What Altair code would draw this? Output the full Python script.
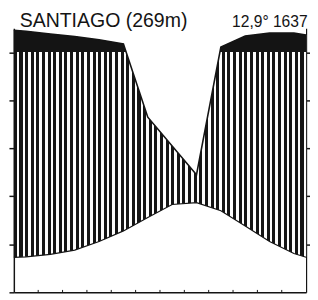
import altair as alt
import pandas as pd

# ---- data ----
station_title = "SANTIAGO (269m)"
station_stats = "12,9° 1637"
months = ["Jan", "Feb", "Mar", "Apr", "May", "Jun", "Jul", "Aug", "Sep", "Oct", "Nov", "Dec"]
temp_c = [7.4, 7.9, 8.8, 10.6, 12.8, 15.6, 18.3, 18.7, 17.0, 13.8, 10.6, 8.1]
precip_mm = [188, 176, 166, 152, 135, 73, 61, 49, 122, 168, 180, 180]
# values at the left / right border of the diagram
edge_temp = [7.3, 7.3]
edge_precip = [192, 172]
temp_ticks = [0, 10, 20, 30, 40, 50]
right_ticks = [10, 20, 30, 40, 50]
month_bounds = list(range(1, 12))

# ---- table ----
xs = [0.0] + [i + 0.5 for i in range(12)] + [12.0]
df = pd.DataFrame({
    "x": xs,
    "temp": [edge_temp[0]] + temp_c + [edge_temp[1]],
    "prec": [edge_precip[0]] + precip_mm + [edge_precip[1]],
})


def disp(p):
    return p / 2 if p <= 100 else 50 + (p - 100) / 20


top_u = max(disp(p) for p in df["prec"])
bot_u = min(df["temp"])
cut = (top_u - 50) / (top_u - bot_u)

INK = "#141414"
PAPER = "#fcfcfc"

n_stripes = 52
stops = []
for k in range(n_stripes):
    a = k / n_stripes
    b = (k + 0.54) / n_stripes
    c = (k + 1) / n_stripes
    stops += [
        {"offset": a, "color": INK},
        {"offset": b, "color": INK},
        {"offset": b, "color": PAPER},
        {"offset": c, "color": PAPER},
    ]
stripe_fill = {"gradient": "linear", "x1": 0, "x2": 1, "y1": 0, "y2": 0, "stops": stops}
black_fill = {
    "gradient": "linear", "x1": 0, "x2": 0, "y1": 0, "y2": 1,
    "stops": [
        {"offset": 0, "color": INK},
        {"offset": cut, "color": INK},
        {"offset": cut, "color": "rgba(255,255,255,0)"},
        {"offset": 1, "color": "rgba(255,255,255,0)"},
    ],
}

xscale = alt.Scale(domain=[0, 12], nice=False, zero=False)
yscale = alt.Scale(domain=[0, 55], nice=False, zero=True)
left_axis = alt.Axis(values=temp_ticks, labels=False, title=None, grid=False,
                     tickSize=5, tickWidth=1.5, tickColor=INK,
                     domainColor=INK, domainWidth=1.5)
xaxis = alt.Axis(values=[], labels=False, ticks=False, title=None, grid=False,
                 domainColor=INK, domainWidth=1.5)

base = alt.Chart(df).transform_calculate(
    disp="datum.prec <= 100 ? datum.prec / 2 : 50 + (datum.prec - 100) / 20"
)
X = alt.X("x:Q", scale=xscale, axis=xaxis)

hatch = base.mark_area(color=stripe_fill, opacity=1).encode(
    x=X, y=alt.Y("disp:Q", scale=yscale, axis=left_axis), y2="temp:Q")
black = base.mark_area(color=black_fill, opacity=1).encode(
    x=X, y=alt.Y("disp:Q", scale=yscale, axis=left_axis), y2="temp:Q")
pline = base.mark_line(color=INK, strokeWidth=1.6).encode(
    x=X, y=alt.Y("disp:Q", scale=yscale, axis=left_axis))
tline = base.mark_line(color=INK, strokeWidth=1.2).encode(
    x=X, y=alt.Y("temp:Q", scale=yscale, axis=left_axis))

mt = alt.Chart(pd.DataFrame({"b": month_bounds})).mark_rule(
    color=INK, strokeWidth=1.0).encode(
    x=alt.X("b:Q", scale=xscale, axis=xaxis),
    y=alt.datum(0, scale=yscale), y2=alt.datum(0.5))

main = alt.layer(hatch, black, pline, tline, mt)

right = alt.Chart(df).mark_line(opacity=0).encode(
    x=X,
    y=alt.Y("temp:Q", scale=yscale,
            axis=alt.Axis(orient="right", values=right_ticks, labels=False, title=None,
                          grid=False, tickSize=4, tickWidth=1.5, tickColor=INK,
                          domainColor=INK, domainWidth=1.2)))

t1 = alt.Chart(pd.DataFrame({"t": [station_title]})).mark_text(
    align="left", baseline="alphabetic", font="Liberation Sans", fontSize=20,
    color=INK).encode(x=alt.value(6), y=alt.value(-1), text="t:N")
t2 = alt.Chart(pd.DataFrame({"t": [station_stats]})).mark_text(
    align="left", baseline="alphabetic", font="Liberation Sans", fontSize=16,
    color=INK).encode(x=alt.value(224), y=alt.value(-1), text="t:N")

chart = alt.layer(main, right, t1, t2).resolve_scale(y="independent").properties(
    width=300, height=271,
    padding={"left": 6, "top": 17, "right": 4, "bottom": 4},
    autosize="none",
    background="#ffffff",
).configure_view(stroke=None)

chart.save("out.html", embed_options={"renderer": "svg", "actions": False})
